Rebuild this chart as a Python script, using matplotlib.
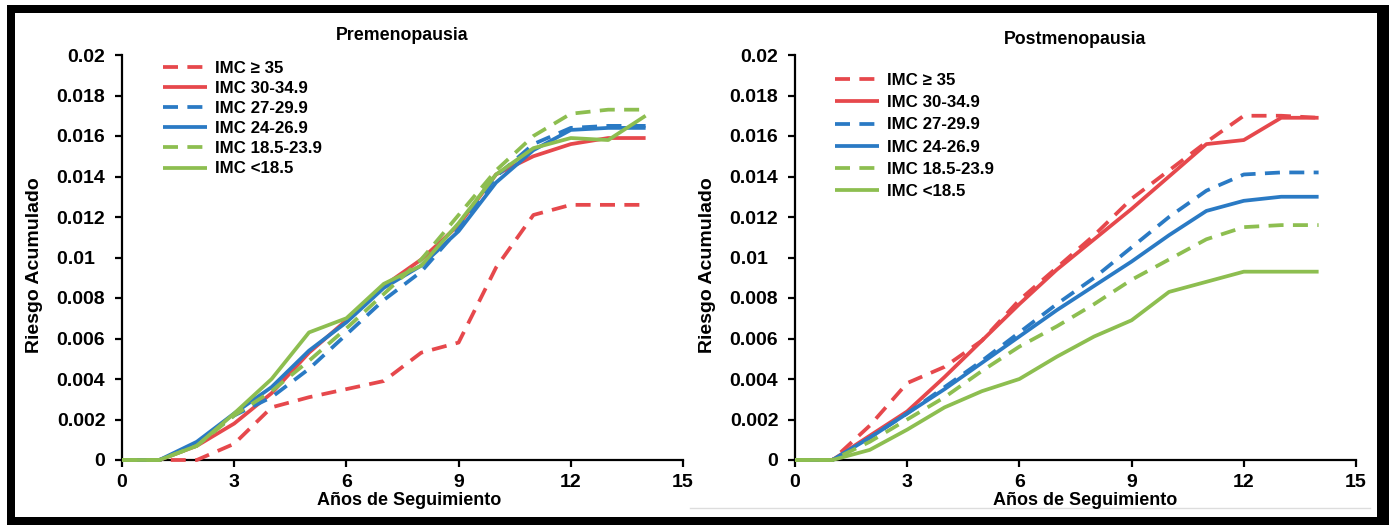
import numpy as np
import matplotlib.pyplot as plt
from matplotlib.patches import Rectangle
from matplotlib.lines import Line2D

plt.rcParams['font.family'] = ['Liberation Sans', 'DejaVu Sans']
plt.rcParams['font.weight'] = 'bold'

# data (cumulative risk per follow-up year)
years = [0, 1, 2, 3, 4, 5, 6, 7, 8, 9, 10, 11, 12, 13, 14]
labels = ['IMC \u2265 35', 'IMC 30-34.9', 'IMC 27-29.9', 'IMC 24-26.9', 'IMC 18.5-23.9', 'IMC <18.5']

pre_35 = [0, 0, 0, 0.0008, 0.0026, 0.0031, 0.0035, 0.0039, 0.0053, 0.0058, 0.0095, 0.0121, 0.0126, 0.0126, 0.0126]
pre_30 = [0, 0, 0.0007, 0.0018, 0.0033, 0.0053, 0.0069, 0.0086, 0.0099, 0.0116, 0.0141, 0.0150, 0.0156, 0.0159, 0.0159]
pre_27 = [0, 0, 0.0008, 0.0022, 0.0031, 0.0045, 0.0062, 0.0079, 0.0093, 0.0114, 0.0140, 0.0156, 0.0164, 0.0165, 0.0165]
pre_24 = [0, 0, 0.0009, 0.0023, 0.0036, 0.0054, 0.0068, 0.0085, 0.0096, 0.0113, 0.0137, 0.0153, 0.0163, 0.0164, 0.0164]
pre_185 = [0, 0, 0.0007, 0.0022, 0.0034, 0.0049, 0.0065, 0.0082, 0.0099, 0.0121, 0.0143, 0.0160, 0.0171, 0.0173, 0.0173]
pre_lt = [0, 0, 0.0007, 0.0023, 0.0040, 0.0063, 0.0070, 0.0087, 0.0096, 0.0117, 0.0141, 0.0154, 0.0159, 0.0158, 0.0170]

post_35 = [0, 0, 0.0017, 0.0038, 0.0046, 0.0059, 0.0079, 0.0095, 0.0111, 0.0129, 0.0143, 0.0157, 0.0170, 0.0170, 0.0169]
post_30 = [0, 0, 0.0012, 0.0024, 0.0041, 0.0059, 0.0077, 0.0094, 0.0109, 0.0124, 0.0140, 0.0156, 0.0158, 0.0169, 0.0169]
post_27 = [0, 0, 0.0011, 0.0023, 0.0036, 0.0049, 0.0063, 0.0077, 0.0090, 0.0105, 0.0120, 0.0133, 0.0141, 0.0142, 0.0142]
post_24 = [0, 0, 0.0011, 0.0023, 0.0035, 0.0048, 0.0061, 0.0074, 0.0086, 0.0098, 0.0111, 0.0123, 0.0128, 0.0130, 0.0130]
post_185 = [0, 0, 0.0009, 0.0020, 0.0031, 0.0044, 0.0056, 0.0066, 0.0077, 0.0089, 0.0099, 0.0109, 0.0115, 0.0116, 0.0116]
post_lt = [0, 0, 0.0005, 0.0015, 0.0026, 0.0034, 0.0040, 0.0051, 0.0061, 0.0069, 0.0083, 0.0088, 0.0093, 0.0093, 0.0093]

xticks = [0, 3, 6, 9, 12, 15]
yticks = [0, 0.002, 0.004, 0.006, 0.008, 0.01, 0.012, 0.014, 0.016, 0.018, 0.02]
ytick_labels = ['0', '0.002', '0.004', '0.006', '0.008', '0.01  ', '0.012', '0.014', '0.016', '0.018', '0.02']

colors = ['#E6484C', '#E6484C', '#2A7AC4', '#2A7AC4', '#8DBE50', '#8DBE50']
dashed = [True, False, True, False, True, False]

W, H = 1389, 525
fig = plt.figure(figsize=(W / 100, H / 100), dpi=100)

# black frame round the picture
fig.patches.append(Rectangle((7 / W, 0), (W - 7) / W, 1 - 5 / H, transform=fig.transFigure,
                             facecolor='black', edgecolor='none', zorder=-3))
fig.patches.append(Rectangle((15 / W, 1 - 517 / H), (1377 - 15) / W, (517 - 13) / H,
                             transform=fig.transFigure, facecolor='white', edgecolor='none', zorder=-2))
fig.lines.append(Line2D([690 / W, 1370 / W], [1 - 508 / H, 1 - 508 / H], transform=fig.transFigure,
                        color='#dddddd', lw=1, zorder=-1))


def panel(left_px, series, title, title_pad, leg_anchor, leg_space, xlab_x):
    ax = fig.add_axes([left_px / W, 65 / H, 561 / W, 405 / H])
    ax.set_facecolor('none')
    for vals, lab, c, d in zip(series, labels, colors, dashed):
        ln, = ax.plot(years, vals, color=c, lw=2.7, label=lab, zorder=3, clip_on=False,
                      solid_capstyle='butt')
        if d:
            ln.set_dashes([4, 2.5])
    ax.set_xlim(0, 15)
    ax.set_ylim(0, 0.02)
    ax.set_xticks(xticks)
    ax.set_xticklabels([str(t) for t in xticks])
    ax.set_yticks(yticks)
    ax.set_yticklabels(ytick_labels)
    for s in ['top', 'right']:
        ax.spines[s].set_visible(False)
    for s in ['left', 'bottom']:
        ax.spines[s].set_linewidth(1.6)
        ax.spines[s].set_color('black')
    ax.tick_params(axis='both', direction='out', length=5, width=1.6, labelsize=14)
    ax.tick_params(axis='y', pad=7)
    ax.tick_params(axis='x', pad=5)
    ax.set_title(title, fontsize=12.8, fontweight='bold', pad=title_pad)
    ax.set_xlabel('Años de Seguimiento', fontsize=13, fontweight='bold')
    ax.xaxis.set_label_coords(xlab_x, -0.1)
    ax.xaxis.label.set_va('center')
    ax.set_ylabel('Riesgo Acumulado', fontsize=14, fontweight='bold')
    ax.yaxis.set_label_coords(-0.141, 0.48)
    ax.legend(loc='upper left', bbox_to_anchor=leg_anchor, frameon=False, fontsize=12.2,
              handlelength=2.6, handletextpad=0.5, labelspacing=leg_space,
              borderpad=0, borderaxespad=0)
    return ax


panel(122, [pre_35, pre_30, pre_27, pre_24, pre_185, pre_lt], 'Premenopausia', 11,
      (0.073, 0.985), 0.3, 0.512)
panel(795, [post_35, post_30, post_27, post_24, post_185, post_lt], 'Postmenopausia', 8,
      (0.071, 0.955), 0.42, 0.517)

fig.savefig('out.png', dpi=100)
